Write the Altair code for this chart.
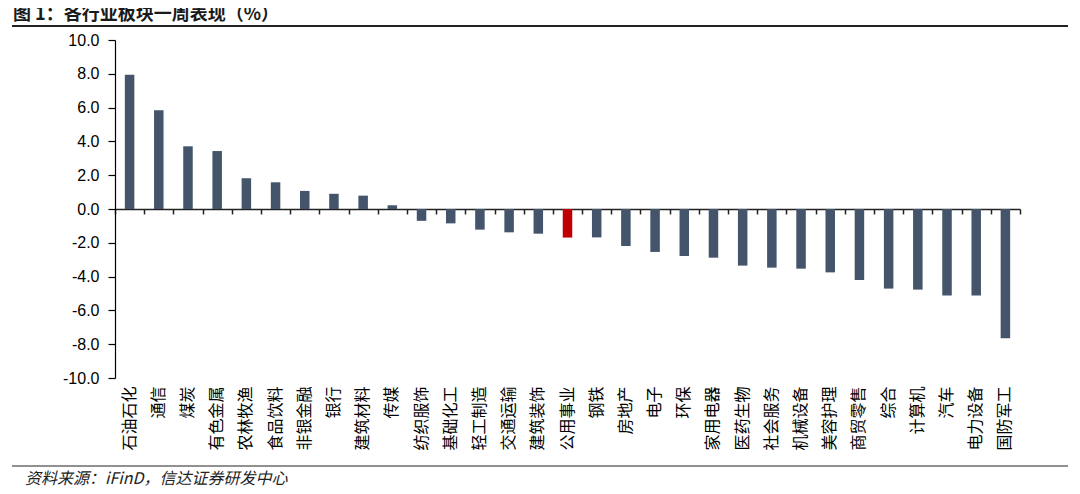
import altair as alt
import pandas as pd

industries = ["石油石化", "通信", "煤炭", "有色金属", "农林牧渔", "食品饮料", "非银金融", "银行",
              "建筑材料", "传媒", "纺织服饰", "基础化工", "轻工制造", "交通运输", "建筑装饰", "公用事业",
              "钢铁", "房地产", "电子", "环保", "家用电器", "医药生物", "社会服务", "机械设备",
              "美容护理", "商贸零售", "综合", "计算机", "汽车", "电力设备", "国防军工"]
returns = [7.95, 5.84, 3.71, 3.43, 1.82, 1.58, 1.07, 0.90,
           0.79, 0.22, -0.70, -0.85, -1.22, -1.38, -1.46, -1.69,
           -1.68, -2.19, -2.54, -2.78, -2.88, -3.35, -3.47, -3.53,
           -3.75, -4.20, -4.71, -4.77, -5.12, -5.12, -7.65]
highlight = "公用事业"
y_ticks = [-10, -8, -6, -4, -2, 0, 2, 4, 6, 8, 10]
title_text = "图 1：各行业板块一周表现（%）"
source_text = "资料来源：iFinD，信达证券研发中心"

df = pd.DataFrame({"industry": industries, "ret": returns})

W, H = 905, 338
CJK = "Noto Sans CJK SC"

x_scale = alt.Scale(paddingInner=0, paddingOuter=0)
y_scale = alt.Scale(domain=[-10, 10], nice=False)
y_axis = alt.Axis(values=y_ticks, grid=False, title=None,
                  labelExpr="replace(format(datum.value, '.1f'), '\u2212', '-')",
                  labelFont="Liberation Sans", labelFontSize=16, labelColor="#000",
                  domainColor="#000", domainWidth=1.2, tickColor="#000", tickSize=7,
                  tickWidth=1.2, labelPadding=9)

bars = alt.Chart(df).mark_bar(size=9.5).encode(
    x=alt.X("industry:N", sort=industries, scale=x_scale,
            axis=alt.Axis(orient="bottom", domain=False, ticks=False, title=None,
                          labelAngle=270, labelAlign="right", labelBaseline="middle",
                          labelFont=CJK, labelFontSize=16, labelColor="#000",
                          labelPadding=8, labelLimit=200)),
    y=alt.Y("ret:Q", scale=y_scale, axis=y_axis),
    color=alt.condition(alt.datum.industry == highlight, alt.value("#C00000"), alt.value("#44546A")),
)

zero_axis = alt.Chart(df).mark_bar(size=9.5, opacity=0).encode(
    x=alt.X("industry:N", sort=industries, scale=x_scale,
            axis=alt.Axis(orient="bottom", offset=-H / 2, labels=False, title=None,
                          domain=True, domainColor="#222", domainWidth=1.5,
                          ticks=True, tickBand="extent", tickSize=5, tickColor="#222",
                          tickWidth=1.5)),
    y=alt.Y("ret:Q", scale=y_scale, axis=y_axis),
)

title = alt.Chart(pd.DataFrame({"t": [title_text]})).mark_text(
    align="left", baseline="middle", font=CJK, fontSize=18, fontWeight="bold", color="#1a1a1a"
).encode(text="t:N", x=alt.value(-102), y=alt.value(-25))

top_line = alt.Chart(pd.DataFrame({"t": [0]})).mark_rule(color="#222", strokeWidth=1.8).encode(
    x=alt.value(-103), x2=alt.value(953), y=alt.value(-14))

bottom_line = alt.Chart(pd.DataFrame({"t": [0]})).mark_rule(color="#222", strokeWidth=1).encode(
    x=alt.value(-103), x2=alt.value(953), y=alt.value(426))

source = alt.Chart(pd.DataFrame({"t": [source_text]})).mark_text(
    align="left", baseline="middle", font=CJK, fontSize=16, fontStyle="italic", color="#222"
).encode(text="t:N", x=alt.value(-90), y=alt.value(439))

chart = alt.layer(bars, zero_axis, title, top_line, bottom_line, source).resolve_axis(
    x="independent"
).properties(
    width=W, height=H,
    autosize=alt.AutoSizeParams(type="none"),
    padding={"left": 107, "top": 32, "right": 52, "bottom": 108},
).configure_view(stroke="transparent")

chart.save("out.html", embed_options={"renderer": "svg", "actions": False})
